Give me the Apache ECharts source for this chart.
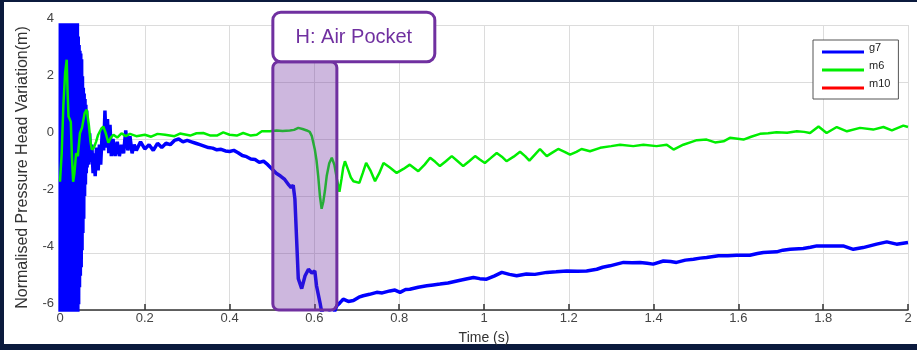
<!DOCTYPE html>
<html>
<head>
<meta charset="utf-8">
<script src="https://cdn.jsdelivr.net/npm/echarts@6/dist/echarts.min.js"></script>
<style>
  html, body { margin:0; padding:0; background:#0b1a3d; width:917px; height:350px; overflow:hidden; }
  #panel { position:absolute; left:4px; top:2px; width:913px; height:342px; background:#ffffff; }
  #chart { position:absolute; left:0; top:0; width:917px; height:350px; }
</style>
</head>
<body>
<div id="panel"></div>
<div id="chart"></div>
<script>
// ---- data ----
const xTicks = [0, 0.2, 0.4, 0.6, 0.8, 1, 1.2, 1.4, 1.6, 1.8, 2];
const yTicks = [-6, -4, -2, 0, 2, 4];
const seriesNames = ['g7', 'm6', 'm10'];

// g7 (blue): initial burst saturates the whole axis range
const g7 = [
  [0,-9],[0.001,9],[0.002,-9],[0.003,9],[0.004,-9],[0.005,9],[0.006,-9],[0.007,9],[0.008,-9],[0.009,9],
  [0.010,-9],[0.011,9],[0.012,-9],[0.013,9],[0.014,-9],[0.015,9],[0.016,-9],[0.017,9],[0.018,-9],[0.019,9],
  [0.020,-9],[0.021,9],[0.022,-9],[0.023,9],[0.024,-9],[0.025,9],[0.026,-9],[0.027,9],[0.028,-9],[0.029,9],
  [0.030,-9],[0.031,9],[0.032,-9],[0.033,9],[0.034,-9],[0.035,9],[0.036,-9],[0.037,9],[0.038,-9],[0.039,9],
  [0.040,-8],[0.041,4.3],[0.042,-6.5],[0.043,3.6],[0.044,-5.8],[0.045,3.3],[0.046,-5.2],[0.047,3.1],[0.048,-4.8],
  [0.049,3.0],[0.050,-4.5],[0.051,2.8],[0.052,-3.9],[0.053,2.2],[0.054,-3.3],[0.055,1.8],[0.056,-2.8],[0.057,1.6],
  [0.058,-2.0],[0.059,1.4],[0.060,-1.6],[0.061,1.2],[0.062,-1.2],[0.063,1.0],[0.064,-1.0],[0.066,0.5],[0.068,-0.9],
  [0.070,0.2],[0.072,-0.8],[0.075,-0.2],[0.078,-1.2],[0.080,-0.5],[0.083,-1.3],[0.086,-0.3],[0.090,-1.1],
  [0.093,-0.2],[0.096,-0.9],[0.100,0.4],[0.103,-0.4],[0.106,1.0],[0.109,-0.3],[0.112,0.7],[0.115,-0.5],
  [0.118,0.5],[0.121,-0.6],[0.125,0.0],[0.130,-0.6],[0.135,-0.1],[0.140,-0.6],[0.145,-0.2],[0.150,-0.5],
  [0.155,0.3],[0.160,-0.4],[0.165,0.1],[0.170,-0.5],[0.175,-0.2],[0.180,-0.4],[0.190,-0.1],[0.200,-0.35],
  [0.210,-0.2],[0.220,-0.4],[0.230,-0.15],[0.240,-0.3],[0.250,-0.15],[0.260,-0.2],[0.270,-0.05],[0.280,0.0],
  [0.290,-0.1],[0.300,-0.05],[0.310,-0.1],[0.320,-0.15],[0.330,-0.2],[0.340,-0.25],[0.350,-0.3],[0.360,-0.32],
  [0.370,-0.38],[0.380,-0.36],[0.390,-0.42],[0.400,-0.44],[0.410,-0.4],[0.420,-0.48],[0.430,-0.58],[0.440,-0.62],
  [0.450,-0.7],[0.460,-0.72],[0.470,-0.82],[0.480,-0.78],[0.490,-0.9],[0.500,-1.05],[0.510,-1.2],[0.520,-1.3],
  [0.530,-1.42],[0.540,-1.62],[0.545,-1.7],[0.550,-1.62],[0.554,-2.1],[0.558,-3.5],[0.562,-4.9],[0.570,-5.25],
  [0.578,-4.8],[0.586,-4.57],[0.594,-4.7],[0.601,-4.63],[0.605,-5.15],[0.613,-5.73],[0.617,-6.05],[0.625,-6.2],
  [0.635,-6.1],[0.645,-6.15],[0.653,-5.85],[0.660,-5.75],[0.668,-5.62],[0.680,-5.7],[0.692,-5.67],[0.705,-5.55],
  [0.715,-5.5],[0.730,-5.45],[0.747,-5.38],[0.760,-5.4],[0.778,-5.33],[0.790,-5.3],[0.802,-5.38],[0.815,-5.28],
  [0.825,-5.27],[0.845,-5.2],[0.865,-5.15],[0.880,-5.12],[0.896,-5.09],[0.915,-5.05],[0.936,-4.98],[0.955,-4.92],
  [0.975,-4.86],[0.990,-4.9],[1.006,-4.92],[1.025,-4.8],[1.042,-4.68],[1.060,-4.75],[1.077,-4.8],[1.100,-4.74],
  [1.120,-4.75],[1.148,-4.68],[1.170,-4.66],[1.195,-4.63],[1.220,-4.64],[1.242,-4.63],[1.266,-4.57],[1.280,-4.5],
  [1.297,-4.45],[1.315,-4.38],[1.329,-4.33],[1.350,-4.34],[1.368,-4.33],[1.385,-4.36],[1.399,-4.39],[1.423,-4.28],
  [1.440,-4.3],[1.454,-4.33],[1.475,-4.25],[1.494,-4.22],[1.510,-4.18],[1.525,-4.16],[1.553,-4.1],[1.575,-4.1],
  [1.596,-4.08],[1.627,-4.08],[1.645,-4.02],[1.659,-3.98],[1.690,-3.96],[1.705,-3.9],[1.722,-3.87],[1.753,-3.84],
  [1.770,-3.8],[1.785,-3.75],[1.816,-3.75],[1.847,-3.75],[1.871,-3.87],[1.894,-3.81],[1.910,-3.75],[1.926,-3.69],
  [1.950,-3.61],[1.973,-3.69],[2.000,-3.63]
];

// m6 (green)
const m6 = [
  [0,-1.5],[0.004,-0.5],[0.008,1.2],[0.012,2.3],[0.0158,2.78],[0.018,1.6],[0.020,0.8],[0.023,0.85],[0.0255,0.6],
  [0.028,-0.6],[0.031,-1.5],[0.034,-1.2],[0.038,-0.5],[0.042,-0.6],[0.047,0.2],[0.052,0.4],[0.058,0.9],[0.063,1.03],
  [0.068,0.5],[0.072,-0.1],[0.075,-0.37],[0.080,-0.3],[0.085,-0.1],[0.090,0.15],[0.097,0.35],[0.102,0.44],
  [0.108,0.2],[0.114,-0.13],[0.120,0.05],[0.126,0.15],[0.135,0.05],[0.145,0.2],[0.155,0.1],[0.165,0.18],
  [0.180,0.1],[0.200,0.15],[0.215,0.08],[0.230,0.18],[0.248,0.15],[0.270,0.1],[0.283,0.19],[0.307,0.12],
  [0.322,0.2],[0.338,0.21],[0.355,0.12],[0.370,0.12],[0.385,0.23],[0.400,0.15],[0.417,0.12],[0.432,0.21],
  [0.450,0.12],[0.464,0.15],[0.476,0.27],[0.495,0.27],[0.511,0.3],[0.525,0.28],[0.542,0.3],[0.552,0.32],
  [0.562,0.39],[0.572,0.35],[0.582,0.3],[0.589,0.25],[0.594,0.1],[0.601,-0.37],[0.605,-0.75],[0.609,-1.3],
  [0.613,-2.0],[0.617,-2.45],[0.621,-2.2],[0.625,-1.8],[0.629,-1.3],[0.635,-0.85],[0.641,-0.66],[0.647,-0.9],
  [0.653,-1.4],[0.659,-1.85],[0.664,-1.4],[0.668,-1.0],[0.672,-0.78],[0.680,-1.1],[0.686,-1.35],[0.692,-1.48],
  [0.706,-1.54],[0.714,-1.2],[0.722,-0.84],[0.732,-1.1],[0.743,-1.48],[0.753,-1.2],[0.763,-0.84],[0.778,-1.0],
  [0.794,-1.19],[0.810,-1.05],[0.825,-0.9],[0.845,-1.13],[0.860,-0.9],[0.873,-0.66],[0.885,-0.8],[0.896,-0.95],
  [0.910,-0.78],[0.924,-0.6],[0.938,-0.78],[0.951,-0.95],[0.965,-0.78],[0.979,-0.6],[0.990,-0.72],[1.002,-0.84],
  [1.015,-0.68],[1.030,-0.49],[1.042,-0.62],[1.053,-0.78],[1.070,-0.62],[1.085,-0.45],[1.097,-0.6],[1.107,-0.76],
  [1.120,-0.55],[1.132,-0.35],[1.140,-0.48],[1.148,-0.6],[1.162,-0.47],[1.175,-0.35],[1.190,-0.45],[1.203,-0.55],
  [1.218,-0.45],[1.230,-0.35],[1.250,-0.43],[1.274,-0.31],[1.300,-0.25],[1.321,-0.2],[1.352,-0.25],[1.376,-0.2],
  [1.407,-0.25],[1.431,-0.2],[1.447,-0.37],[1.470,-0.2],[1.490,-0.1],[1.502,-0.04],[1.525,-0.02],[1.545,-0.12],
  [1.565,-0.08],[1.580,0.04],[1.612,-0.02],[1.630,0.08],[1.651,0.18],[1.670,0.2],[1.690,0.24],[1.715,0.22],
  [1.738,0.27],[1.755,0.25],[1.769,0.21],[1.789,0.44],[1.808,0.21],[1.832,0.42],[1.856,0.27],[1.887,0.39],
  [1.918,0.33],[1.942,0.42],[1.962,0.3],[1.989,0.47],[2.000,0.42]
];

// m10 (red): listed in the legend, no visible trace
const m10 = [];

// annotation "H: Air Pocket": shaded time window and label box (data coordinates)
const airPocketLabel = 'H: Air Pocket';
const airPocketWindow = [[0.502, -6, 0.653, 2.71]];
const airPocketBox = [[0.502, 4.45, 0.884, 2.71]];

// ---- chart ----
const FONT = 'Liberation Sans, Arial, sans-serif';
const PURPLE = '#7030a0';
const chart = echarts.init(document.getElementById('chart'), null, { renderer: 'canvas' });

function rectFromCoords(api) {
  const p1 = api.coord([api.value(0), api.value(1)]);
  const p2 = api.coord([api.value(2), api.value(3)]);
  return { x: p1[0], y: p2[1], width: p2[0] - p1[0], height: p1[1] - p2[1] };
}

chart.setOption({
  animation: false,
  backgroundColor: 'transparent',
  grid: { left: 60, right: 9, top: 25, bottom: 39, containLabel: false },
  xAxis: {
    type: 'value', min: xTicks[0], max: xTicks[xTicks.length - 1], interval: 0.2,
    name: 'Time (s)', nameLocation: 'middle', nameGap: 21,
    nameTextStyle: { fontFamily: FONT, fontSize: 14, color: '#333' },
    axisLine: { show: true, onZero: false, lineStyle: { color: '#333', width: 1.5 } },
    axisTick: { show: true, inside: true, length: 6, lineStyle: { color: '#333', width: 1.5 } },
    axisLabel: { fontFamily: FONT, fontSize: 13, color: '#444', margin: 2 },
    splitLine: { show: true, lineStyle: { color: '#dcdcdc', width: 1 } }
  },
  yAxis: {
    type: 'value', min: yTicks[0], max: yTicks[yTicks.length - 1], interval: 2,
    name: 'Normalised Pressure Head Variation(m)', nameLocation: 'middle', nameGap: 29, nameRotate: 90,
    nameTextStyle: { fontFamily: FONT, fontSize: 16, color: '#333' },
    axisLine: { show: true, onZero: false, lineStyle: { color: '#333', width: 1 } },
    axisTick: { show: true, inside: true, length: 6, lineStyle: { color: '#333' } },
    axisLabel: { fontFamily: FONT, fontSize: 13, color: '#444', margin: 6, verticalAlign: 'bottom' },
    splitLine: { show: true, lineStyle: { color: '#dcdcdc', width: 1 } }
  },
  legend: {
    data: seriesNames, orient: 'vertical', left: 813, top: 40,
    backgroundColor: '#fff', borderColor: '#555', borderWidth: 1,
    padding: [2, 8, 1, 9],
    itemWidth: 42, itemHeight: 3, itemGap: -2, icon: 'rect',
    formatter: '{t|{name}}',
    textStyle: { fontFamily: FONT, fontSize: 11, color: '#222',
      rich: { t: { fontFamily: FONT, fontSize: 11, color: '#222', lineHeight: 12, padding: [0, 0, 9, 0] } } }
  },
  series: [
    { name: 'g7', type: 'line', data: g7, showSymbol: false, clip: true, z: 3,
      lineStyle: { color: '#0000ff', width: 3.5 }, itemStyle: { color: '#0000ff' } },
    { name: 'm6', type: 'line', data: m6, showSymbol: false, clip: true, z: 4,
      lineStyle: { color: '#00ee00', width: 2.5 }, itemStyle: { color: '#00ee00' } },
    { name: 'm10', type: 'line', data: m10, showSymbol: false, clip: true, z: 2,
      lineStyle: { color: '#ff0000', width: 3 }, itemStyle: { color: '#ff0000' } },
    { name: 'airWindow', type: 'custom', data: airPocketWindow, z: 10, clip: false, silent: true,
      renderItem: function (params, api) {
        const r = rectFromCoords(api);
        return { type: 'rect', shape: Object.assign(r, { r: 6 }),
          style: { fill: 'rgba(112,48,160,0.35)', stroke: PURPLE, lineWidth: 3 } };
      } },
    { name: 'airBox', type: 'custom', data: airPocketBox, z: 11, clip: false, silent: true,
      renderItem: function (params, api) {
        const r = rectFromCoords(api);
        return { type: 'group', children: [
          { type: 'rect', shape: Object.assign({}, r, { r: 8 }),
            style: { fill: '#fff', stroke: PURPLE, lineWidth: 3 } },
          { type: 'text', style: { text: airPocketLabel, x: r.x + r.width / 2, y: r.y + r.height / 2 + 1,
              align: 'center', verticalAlign: 'middle', fill: PURPLE, font: '20px ' + FONT } }
        ] };
      } }
  ]
});
</script>
</body>
</html>
